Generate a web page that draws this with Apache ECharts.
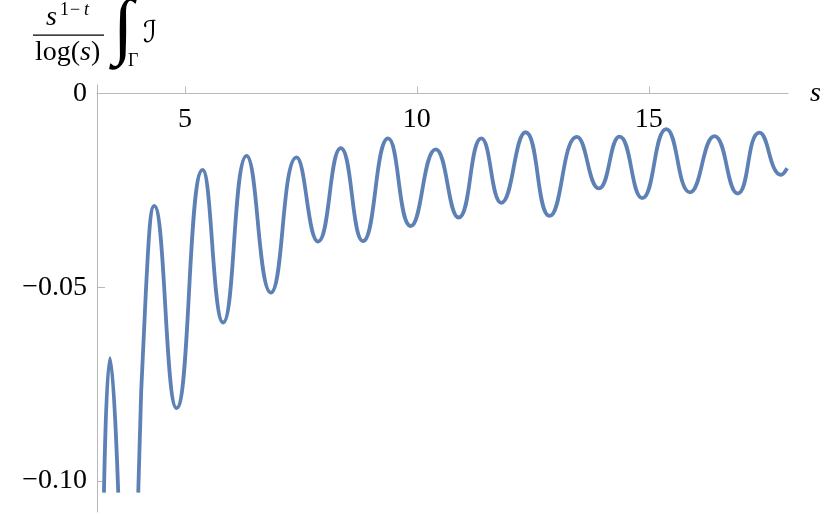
<!DOCTYPE html>
<html>
<head>
<meta charset="utf-8">
<script src="https://cdn.jsdelivr.net/npm/echarts@6/dist/echarts.min.js"></script>
<style>
  html, body { margin: 0; padding: 0; background: #fff; }
  #chart { width: 830px; height: 517px; }
</style>
</head>
<body>
<div id="chart"></div>
<script>
// s positions of the extrema (and a steep mid point)
const sVals = [3.255, 3.385, 3.563, 3.78, 3.994, 4.160, 4.339, 4.821, 5.381,
  5.825, 6.329, 6.852, 7.406, 7.871, 8.360, 8.840, 9.379, 9.868, 10.406, 10.901,
  11.390, 11.821, 12.344, 12.861, 13.449, 13.923, 14.369, 14.858, 15.375, 15.887,
  16.415, 16.917, 17.384, 17.851, 17.981]
// scaled integral values (null = curve leaves the plot range)
const iVals = [-0.103, -0.0683, -0.103, null, -0.103, -0.0507, -0.0290, -0.0812, -0.0197,
  -0.0591, -0.0161, -0.0514, -0.0165, -0.0382, -0.0141, -0.0381, -0.0116, -0.0342, -0.0144, -0.0320,
  -0.0116, -0.0282, -0.0100, -0.0316, -0.0112, -0.0245, -0.0111, -0.0270, -0.0092, -0.0255,
  -0.0110, -0.0258, -0.0101, -0.0210, -0.0193]
const xTicks = [5, 10, 15]
const yTicks = [0, -0.05, -0.1]

const serif = '"Liberation Serif", "DejaVu Serif", serif'
const axisGray = '#b8b8b8'

const chart = echarts.init(document.getElementById('chart'))

const txt = (text, x, y, size, opts = {}) => ({
  type: 'text',
  x, y,
  style: {
    text,
    font: `${opts.italic ? 'italic ' : ''}${size}px ${opts.family || serif}`,
    fill: '#000',
    textAlign: opts.align || 'left',
    textVerticalAlign: 'middle'
  }
})

chart.setOption({
  animation: false,
  grid: { left: 97, right: 42, top: 85, bottom: 5, outerBoundsMode: 'none' },
  xAxis: {
    type: 'value',
    position: 'top',
    offset: -8.5,
    min: 3.105,
    max: 18,
    name: 's',
    nameLocation: 'end',
    nameGap: 22,
    nameTextStyle: { fontFamily: serif, fontStyle: 'italic', fontSize: 28, color: '#000', verticalAlign: 'middle' },
    axisLine: { onZero: false, lineStyle: { color: axisGray, width: 1 } },
    axisTick: { inside: false, length: 7, customValues: xTicks, lineStyle: { color: axisGray } },
    axisLabel: { inside: true, customValues: xTicks, fontFamily: serif, fontSize: 28, color: '#000', margin: 12 },
    splitLine: { show: false }
  },
  yAxis: {
    type: 'value',
    min: -0.108,
    max: 0.0022,
    axisLine: { show: true, onZero: false, lineStyle: { color: axisGray, width: 1 } },
    axisTick: { show: true, inside: true, length: 8, customValues: yTicks, lineStyle: { color: axisGray } },
    axisLabel: {
      customValues: yTicks,
      fontFamily: serif, fontSize: 28, color: '#000', margin: 10,
      formatter: v => (Math.abs(v) < 1e-9 ? '0' : '\u2212' + Math.abs(v).toFixed(2))
    },
    splitLine: { show: false }
  },
  series: [{
    type: 'line',
    data: sVals.map((s, i) => [s, iVals[i] === null ? '-' : iVals[i]]),
    smooth: 0.5,
    showSymbol: false,
    connectNulls: false,
    lineStyle: { color: '#5e81b5', width: 3.8 }
  }],
  graphic: [
    txt('s', 46, 18, 28, { italic: true }),
    txt('1', 60, 10, 18),
    txt('\u2212', 70, 10, 18),
    txt('t', 84, 10, 18, { italic: true }),
    { type: 'rect', shape: { x: 33, y: 34.5, width: 71, height: 1.2 }, style: { fill: '#000' } },
    txt('log(', 35, 53, 28),
    txt('s', 80, 53, 28, { italic: true }),
    txt(')', 91, 53, 28),
    txt('\u222B', 113, 31, 74, { italic: true }),
    txt('\u0393', 128, 61, 18),
    txt('\u2110', 143, 34, 30, { family: '"DejaVu Serif", "DejaVu Sans", serif' })
  ]
})
</script>
</body>
</html>
